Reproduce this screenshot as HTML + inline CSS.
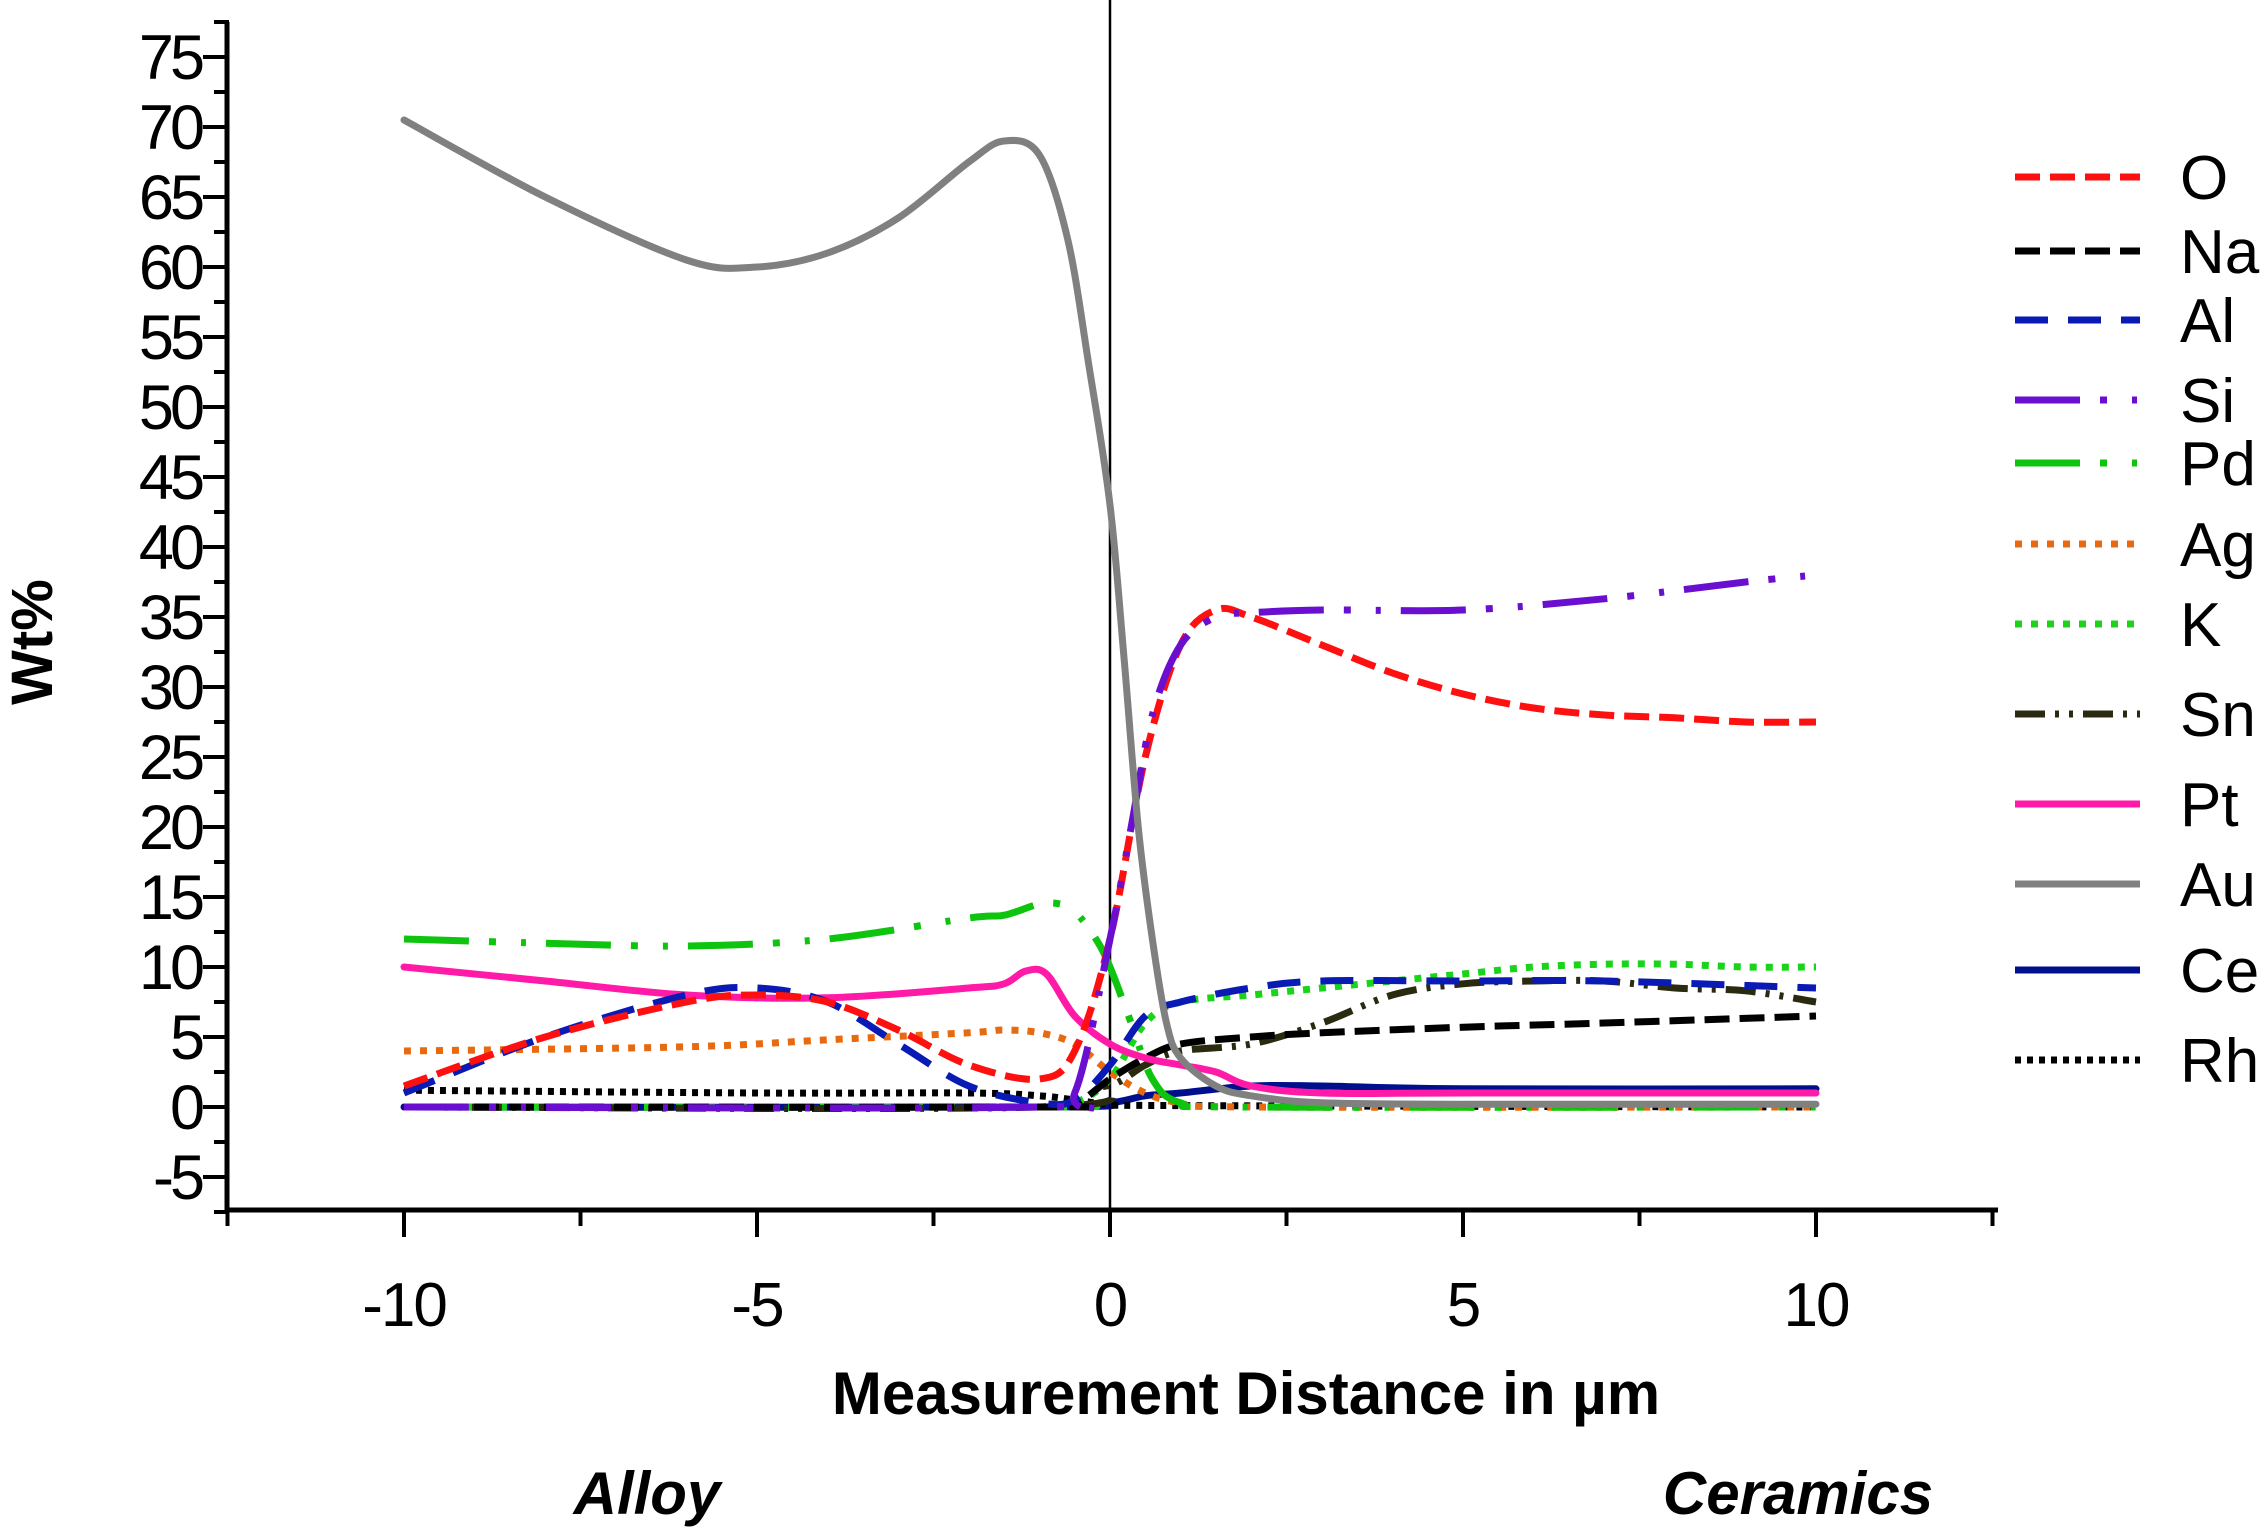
<!DOCTYPE html>
<html><head><meta charset="utf-8">
<style>
html,body{margin:0;padding:0;background:#fff;}
svg{display:block;font-family:"Liberation Sans",Arial,sans-serif;}
</style></head>
<body>
<svg id="chart" width="2268" height="1538" viewBox="0 0 2268 1538" xmlns="http://www.w3.org/2000/svg">
<g id="axes"></g>
<g id="series"></g>
<g id="legend"></g>
<text x="0" y="0" transform="translate(52,642) rotate(-90)" text-anchor="middle" font-weight="bold" font-size="58">Wt%</text>
<text x="1246" y="1414" text-anchor="middle" font-weight="bold" font-size="60">Measurement Distance in µm</text>
<text x="647" y="1514" text-anchor="middle" font-weight="bold" font-style="italic" font-size="60">Alloy</text>
<text x="1798" y="1514" text-anchor="middle" font-weight="bold" font-style="italic" font-size="60">Ceramics</text>
</svg>
<script>
const xTickValues=[-10,-5,0,5,10];
const yTickValues=[-5,0,5,10,15,20,25,30,35,40,45,50,55,60,65,70,75];
const xs_O=[-10,-8,-6,-5,-4,-3,-2,-1,-0.5,0,0.5,1,1.5,2,3,4,5,6,7,8,9,10];
const ys_O=[1.5,5,7.5,8,7.5,5.5,3,2,4,12,25,33,35.5,35,33,31,29.5,28.5,28,27.8,27.5,27.5];
const xs_Na=[-10,-1,-0.5,0,0.5,1,2,3,5,7,10];
const ys_Na=[0,0,0.2,2,3.5,4.5,5,5.3,5.7,6,6.5];
const xs_Al=[-10,-8,-6,-5,-4,-3,-2,-1,-0.5,0,0.5,1,2,3,5,7,10];
const ys_Al=[1,5,8,8.5,7.5,4.5,1.5,0.3,0.5,3,6.5,7.5,8.5,9,9,9,8.5];
const xs_Si=[-10,-1,-0.5,0,0.3,0.6,1,1.5,2,3,5,7,9,10];
const ys_Si=[0,0,1,12,20,28,33,35,35.3,35.5,35.5,36.3,37.5,38];
const xs_Pd=[-10,-8,-6,-4,-2,-1.5,-1,-0.7,-0.5,-0.2,0,0.3,0.6,1,2,10];
const ys_Pd=[12,11.7,11.5,12,13.5,13.7,14.5,14.5,14,12,10,6,2,0.3,0,0];
const xs_Ag=[-10,-6,-4,-2,-1.5,-1,-0.5,0,0.5,1,2,10];
const ys_Ag=[4,4.3,4.8,5.3,5.5,5.3,4.5,2.5,1,0.3,0,0];
const xs_K=[-10,-1,-0.5,0,0.5,1,2,3,4,5,6,7,8,9,10];
const ys_K=[0,0,0.3,2,6,7.5,8,8.5,9,9.5,10,10.2,10.2,10,10];
const xs_Sn=[-10,-1,0,0.5,1,2,3,4,5,6,7,8,9,10];
const ys_Sn=[0,0,1.5,3,4,4.5,6,8,8.8,9,9,8.5,8.3,7.5];
const xs_Pt=[-10,-8,-6,-4,-2,-1.5,-1.2,-0.9,-0.5,0,0.5,1,1.5,2,3,5,10];
const ys_Pt=[10,9,8,7.8,8.5,8.8,9.7,9.5,6.5,4.5,3.5,3,2.5,1.5,1,1,1];
const xs_Au=[-10,-8,-6,-5,-4,-3,-2,-1.5,-1,-0.6,-0.3,0,0.2,0.4,0.6,0.8,1,1.5,2,3,5,10];
const ys_Au=[70.5,65,60.5,60,61,63.5,67.5,69,68,62,53,43,32,20,12,6,3.5,1.5,0.8,0.3,0.2,0.2];
const xs_Ce=[-10,-1,0,0.5,1,2,3,5,10];
const ys_Ce=[0,0,0.3,0.8,1,1.5,1.5,1.3,1.3];
const xs_Rh=[-10,-5,-2,-1,-0.5,0,1,10];
const ys_Rh=[1.2,1,1,0.8,0.5,0.2,0.1,0];

const NS="http://www.w3.org/2000/svg";
function X(v){return 1110+v*70.6;}
function Y(v){return 1107-v*14;}
function mk(tag,attrs,parent){const e=document.createElementNS(NS,tag);for(const k in attrs)e.setAttribute(k,attrs[k]);parent.appendChild(e);return e;}
const axes=document.getElementById('axes');
let e=mk('line',{x1:227,y1:22,x2:227,y2:1212,stroke:'#000','stroke-width':5},axes);


e=mk('line',{x1:225,y1:1210,x2:1998,y2:1210,stroke:'#000','stroke-width':5},axes);


e=mk('line',{x1:1110,y1:0,x2:1110,y2:1210,stroke:'#000','stroke-width':2.5},axes);


mk('line',{x1:214,y1:22,x2:229,y2:22,stroke:'#000','stroke-width':4},axes);
for(let v=-7.5;v<=77.5;v+=2.5){
  const maj=Math.abs(v%5)<1e-9;
  const t=mk('line',{x1:maj?203:214,y1:Y(v),x2:227,y2:Y(v),stroke:'#000','stroke-width':4},axes);
  
  
}
yTickValues.forEach(v=>{
  const t=mk('text',{x:201,y:Y(v)+22,'text-anchor':'end','font-size':63,'letter-spacing':'-4'},axes);
  t.textContent=v;
  
  
});
for(let v=-12.5;v<=12.5;v+=2.5){
  const maj=Math.abs(v%5)<1e-9;
  const t=mk('line',{x1:X(v),y1:1210,x2:X(v),y2:maj?1237:1226,stroke:'#000','stroke-width':4},axes);
  
  
}
xTickValues.forEach(v=>{
  const t=mk('text',{x:X(v),y:1326,'text-anchor':'middle','font-size':62,'letter-spacing':'-2'},axes);
  t.textContent=v;
  
  
});
const seriesDefs=[
 ['O',xs_O,ys_O,'#ff1010','25 10','butt'],
 ['Na',xs_Na,ys_Na,'#000000','25 10','butt'],
 ['Al',xs_Al,ys_Al,'#0a1ab4','33 20','butt'],
 ['Si',xs_Si,ys_Si,'#6a0fd0','65 20 7 25 5 20','butt'],
 ['Pd',xs_Pd,ys_Pd,'#0ec40e','65 20 7 25 5 20','butt'],
 ['Ag',xs_Ag,ys_Ag,'#e86a10','7 9','butt'],
 ['K',xs_K,ys_K,'#1ad41a','7 9','butt'],
 ['Sn',xs_Sn,ys_Sn,'#2a2a10','30 10 4 10 4 10','butt'],
 ['Pt',xs_Pt,ys_Pt,'#ff1aa8',null,'round'],
 ['Au',xs_Au,ys_Au,'#808080',null,'round'],
 ['Ce',xs_Ce,ys_Ce,'#00108c',null,'round'],
 ['Rh',xs_Rh,ys_Rh,'#000000','6 6','butt']
];
function smoothPath(xs,ys){
  const p=xs.map((x,i)=>[X(x),Y(ys[i])]);
  let d='M'+p[0][0]+','+p[0][1];
  for(let i=0;i<p.length-1;i++){
    const p0=p[Math.max(0,i-1)],p1=p[i],p2=p[i+1],p3=p[Math.min(p.length-1,i+2)];
    const c1=[p1[0]+(p2[0]-p0[0])/6,p1[1]+(p2[1]-p0[1])/6];
    const c2=[p2[0]-(p3[0]-p1[0])/6,p2[1]-(p3[1]-p1[1])/6];
    d+=' C'+c1[0]+','+c1[1]+' '+c2[0]+','+c2[1]+' '+p2[0]+','+p2[1];
  }
  return d;
}
const sg=document.getElementById('series');
const order=['Ce','Rh','Ag','K','Sn','Na','Pt','Pd','Al','O','Si','Au'];
order.forEach(n=>{
  const s=seriesDefs.find(d=>d[0]===n);
  const a={d:smoothPath(s[1],s[2]),fill:'none',stroke:s[3],'stroke-width':7,'stroke-linecap':s[5],'stroke-linejoin':'round'};
  if(s[4])a['stroke-dasharray']=s[4];
  const p=mk('path',a,sg);
  
  
});
const lg=document.getElementById('legend');
const legendY=[177,251,320,400,463,544,624,714,804,884,970,1060];
seriesDefs.forEach((s,i)=>{
  const g=mk('g',{},lg);
  
  
  const a={x1:2015,y1:legendY[i],x2:2140,y2:legendY[i],stroke:s[3],'stroke-width':7};
  if(s[4])a['stroke-dasharray']=s[4];
  mk('line',a,g);
  const t=mk('text',{x:2180,y:legendY[i]+22,'font-size':62},g);
  t.textContent=s[0];
});
</script>
</body></html>
